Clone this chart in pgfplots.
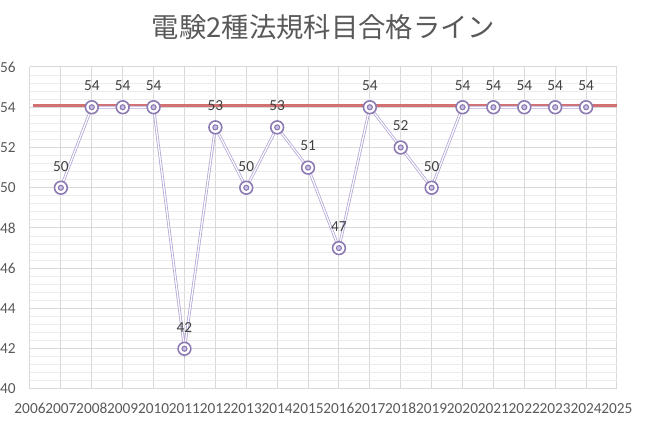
\documentclass[border=0pt]{standalone}
\usepackage{fontspec}
\setmainfont{Carlito}
\newfontfamily\cjk{Noto Sans CJK JP}
\usepackage{pgfplots}
\usepackage{pgfplotstable}
\pgfplotsset{compat=1.18}
\definecolor{txt}{RGB}{89,89,89}
\definecolor{lbl}{RGB}{64,64,64}
\definecolor{majgrid}{RGB}{217,217,217}
\definecolor{mingrid}{RGB}{236,236,236}
\definecolor{lineP}{RGB}{180,167,214}
\definecolor{markP}{RGB}{140,122,178}
\definecolor{markFill}{RGB}{200,190,225}
\definecolor{passR}{RGB}{210,112,114}

% pass line per year
\pgfplotstableread{
year score
2007 50
2008 54
2009 54
2010 54
2011 42
2012 53
2013 50
2014 53
2015 51
2016 47
2017 54
2018 52
2019 50
2020 54
2021 54
2022 54
2023 54
2024 54
}\scores

\begin{document}
\begin{tikzpicture}
\useasboundingbox (0,0) rectangle (485.25pt,317.25pt);
\node[font=\cjk\fontsize{20.5pt}{24pt}\selectfont, text=txt] at (242.6pt,297pt) {電験2種法規科目合格ライン};
\begin{axis}[
  at={(22.5pt,25.5pt)}, anchor=south west, scale only axis,
  width=440.25pt, height=241.5pt,
  xmin=2006, xmax=2025, ymin=40, ymax=56,
  xtick={2006,...,2025}, ytick={40,42,...,56},
  minor x tick num=4, minor y tick num=4,
  grid=both,
  major grid style={majgrid, line width=0.75pt},
  minor grid style={mingrid, line width=0.7pt},
  axis line style={draw=none},
  major tick length=0pt, minor tick length=0pt,
  /pgf/number format/.cd, 1000 sep={}, assume math mode=true, /pgfplots/.cd,
  tick label style={font=\fontsize{11.5pt}{13pt}\selectfont, text=txt, inner sep=0pt},
  yticklabel style={anchor=east, xshift=-10.5pt},
  xticklabel style={anchor=north, yshift=-10.5pt},
  clip=false,
]
\addplot[passR, line width=2.4pt] coordinates {(2006.1,54.1) (2025,54.1)};
\addplot[draw=lineP, line width=0.6pt, double=white, double distance=0.9pt, mark=none] table[x=year, y=score] {\scores};
\addplot[only marks, mark=*, mark size=4.8pt, mark options={draw=markP, fill=white, line width=1.2pt}] table[x=year, y=score] {\scores};
\addplot[only marks, mark=*, mark size=1.9pt, mark options={draw=markP, fill=markFill, line width=0.8pt},
  nodes near coords,
  every node near coord/.append style={anchor=south, inner sep=0pt, yshift=12pt,
    font=\fontsize{11.5pt}{13pt}\selectfont, text=lbl}] table[x=year, y=score] {\scores};
\end{axis}
\end{tikzpicture}
\end{document}
